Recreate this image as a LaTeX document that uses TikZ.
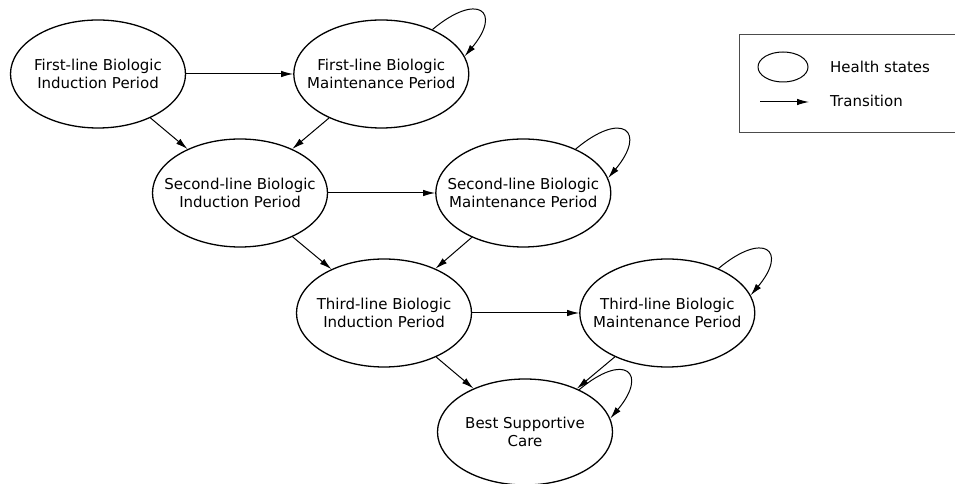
\documentclass[tikz,border=0pt]{standalone}
\usepackage{fontspec}
\setmainfont{DejaVu Sans}
\usetikzlibrary{positioning,arrows.meta,shapes.geometric}

\begin{document}
\begin{tikzpicture}[
  x=1pt, y=1pt,
  state/.style={ellipse, draw, line width=1.3pt, minimum width=175pt,
    minimum height=108pt, inner xsep=-20pt, inner ysep=0pt, align=center,
    font=\fontsize{15}{18}\selectfont},
  trans/.style={-{Latex[length=12pt,width=6.5pt]}, line width=1pt},
  selfloop/.style={trans, looseness=3.6, out=40, in=50},
  keytext/.style={anchor=west, inner sep=0pt, font=\fontsize{15}{18}\selectfont}
]
  \useasboundingbox (0,0) rectangle (955,484);
  \clip (0,0) rectangle (955,484);

  \node[state] (ind1) at (98,410) {First-line Biologic\\Induction Period};
  \node[state, right=107pt of ind1] (mnt1) {First-line Biologic\\Maintenance Period};
  \node[state] (ind2) at (240,291) {Second-line Biologic\\Induction Period};
  \node[state, right=107pt of ind2] (mnt2) {Second-line Biologic\\Maintenance Period};
  \node[state] (ind3) at (384,171) {Third-line Biologic\\Induction Period};
  \node[state, right=107pt of ind3] (mnt3) {Third-line Biologic\\Maintenance Period};
  \node[state, minimum height=106pt] (bsc) at (525,52) {Best Supportive\\Care};

  \draw[trans] (ind1) -- (mnt1);
  \draw[trans] (ind1) -- (ind2);
  \draw[trans] (mnt1) -- (ind2);
  \draw[trans] (ind2) -- (mnt2);
  \draw[trans] (ind2) -- (ind3);
  \draw[trans] (mnt2) -- (ind3);
  \draw[trans] (ind3) -- (mnt3);
  \draw[trans] (ind3) -- (bsc);
  \draw[trans] (mnt3) -- (bsc);

  \draw[selfloop] (mnt1.41) to (mnt1.12);
  \draw[selfloop] (mnt2.40) to (mnt2.10);
  \draw[selfloop] (mnt3.41) to (mnt3.12);
  \draw[selfloop] (bsc.38) to (bsc.9);

  % legend
  \draw[line width=0.8pt, black!70] (739,352) rectangle (980,450);
  \node[ellipse, draw, line width=1pt, minimum width=50pt, minimum height=30pt] (keystate) at (783,417) {};
  \node[keytext] (keystatetext) at (830,417) {Health states};
  \coordinate (keya) at (760,382);
  \coordinate (keyb) at (809,382);
  \draw[trans] (keya) -- (keyb);
  \node[keytext] (keytranstext) at (830,383) {Transition};
\end{tikzpicture}
\end{document}
